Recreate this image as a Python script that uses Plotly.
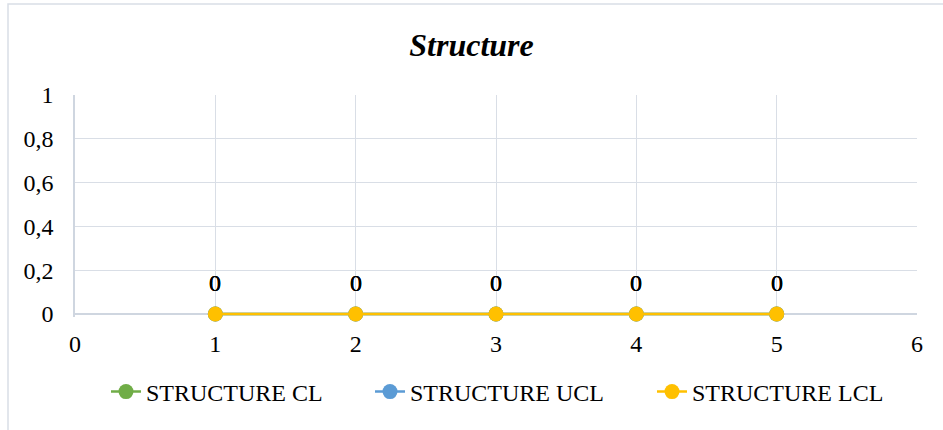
import plotly.graph_objects as go

x_vals = [1, 2, 3, 4, 5]
cl_vals = [0, 0, 0, 0, 0]
ucl_vals = [0, 0, 0, 0, 0]
lcl_vals = [0, 0, 0, 0, 0]
series_names = ["STRUCTURE CL", "STRUCTURE UCL", "STRUCTURE LCL"]
series_colors = ["#70ad47", "#5b9bd5", "#ffc000"]
y_ticks = [0, 0.2, 0.4, 0.6, 0.8, 1]
x_ticks = [0, 1, 2, 3, 4, 5, 6]
title_text = "Structure"

FONT = "Liberation Serif, Times New Roman, serif"
FS = 24

W, H = 943, 430
L, R, T, B = 75, 26, 95, 113
pw = W - L - R
ph = H - T - B
pad_px = 3  # space below the zero line so the series line is not clipped
y_lo = -pad_px / (ph - pad_px)

legend_ids = ["legend", "legend2", "legend3"]
legend_text_px = [146, 410, 692]

fig = go.Figure()
for name, vals, col, lid in zip(series_names, [cl_vals, ucl_vals, lcl_vals], series_colors, legend_ids):
    fig.add_trace(go.Scatter(
        x=x_vals, y=vals, name=name, mode="lines+markers",
        line=dict(color=col, width=2.5),
        marker=dict(color=col, size=15),
        cliponaxis=False, legend=lid, showlegend=True,
    ))

annotations = []
for series in [cl_vals, ucl_vals, lcl_vals]:
    for xv, yv in zip(x_vals, series):
        annotations.append(dict(
            x=xv, y=yv, xref="x", yref="y", text=str(yv), showarrow=False,
            yshift=31, font=dict(family=FONT, size=FS, color="#000000"),
        ))

legend_layout = {}
for lid, tx in zip(legend_ids, legend_text_px):
    legend_layout[lid] = dict(
        orientation="h", x=(tx - 40 - L) / pw, xanchor="left",
        y=-(392 - (T + ph)) / ph, yanchor="middle",
        font=dict(family=FONT, size=FS), bgcolor="rgba(0,0,0,0)", visible=True,
    )

fig.update_layout(
    width=W, height=H,
    showlegend=True,
    margin=dict(l=L, r=R, t=T, b=B, autoexpand=False),
    paper_bgcolor="white", plot_bgcolor="white",
    separators=",.",
    font=dict(family=FONT, size=FS, color="#000000"),
    title=dict(text="<b><i>" + title_text + "</i></b>", x=0.5, xanchor="center",
               y=1 - 45 / H, yanchor="middle", font=dict(family=FONT, size=32, color="#000000")),
    xaxis=dict(range=[0, 6], tickvals=x_ticks, showgrid=True, gridcolor="#d9dee6", gridwidth=1.3,
               zeroline=False, showline=False,
               ticks="outside", ticklen=5, tickcolor="rgba(0,0,0,0)",
               tickfont=dict(family=FONT, size=FS), fixedrange=True),
    yaxis=dict(range=[y_lo, 1], tickvals=y_ticks, showgrid=True, gridcolor="#d9dee6", gridwidth=1.3,
               zeroline=True, zerolinecolor="#cfd6e0", zerolinewidth=1.5,
               showline=True, linecolor="#cfd6e0", linewidth=1.5,
               ticks="outside", ticklen=15, tickcolor="rgba(0,0,0,0)",
               tickfont=dict(family=FONT, size=FS), fixedrange=True),
    annotations=annotations,
    shapes=[dict(type="rect", xref="paper", yref="paper",
                 x0=(8 - L) / pw, x1=(W + 20 - L) / pw,
                 y0=-(H + 20 - (T + ph)) / ph, y1=(T + ph - 4) / ph,
                 line=dict(color="#d9dee6", width=1.5), fillcolor="rgba(0,0,0,0)", layer="below")],
    **legend_layout,
)

fig.write_html("out.html", config={"displayModeBar": False},
               post_script="document.body.style.margin='0';document.body.style.overflow='hidden';")
